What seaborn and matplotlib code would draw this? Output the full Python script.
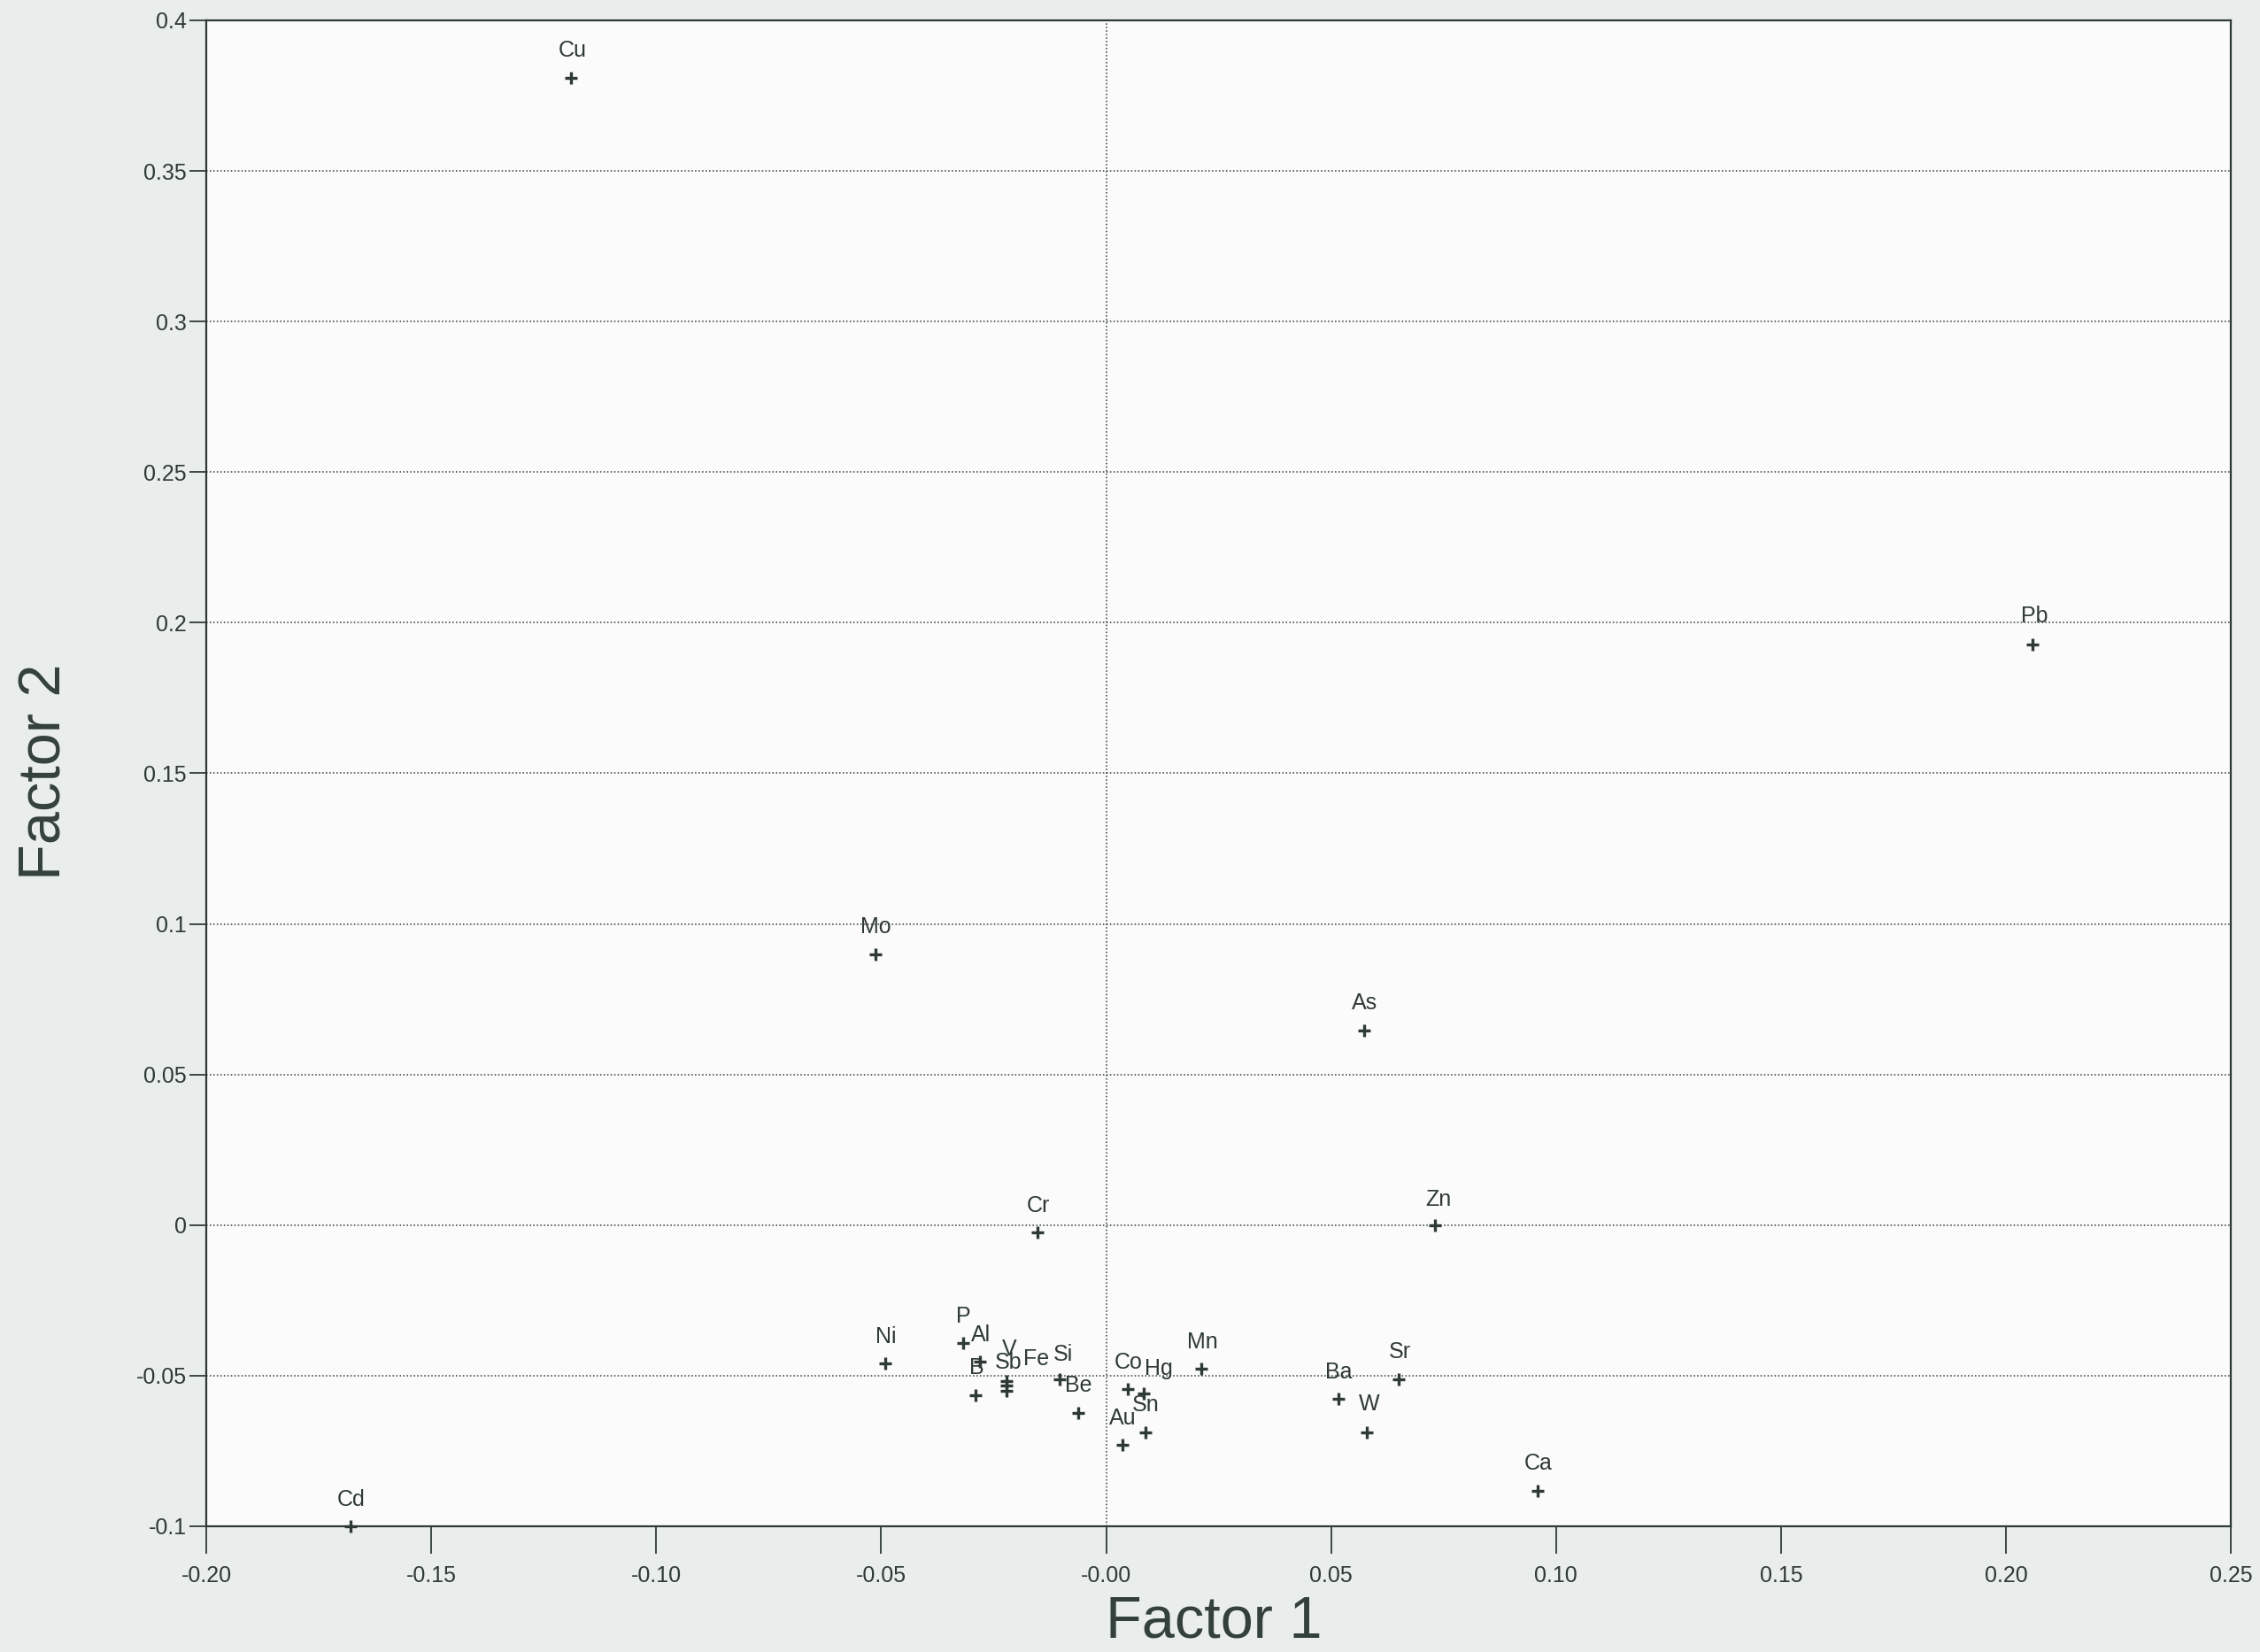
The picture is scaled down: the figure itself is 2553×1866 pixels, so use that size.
import numpy as np
import pandas as pd
import seaborn as sns
import matplotlib.pyplot as plt

# factor loadings
elements = ['Cu', 'Pb', 'Mo', 'As', 'Cr', 'Zn', 'Ni', 'P', 'Al', 'B',
            'V', 'Sb', 'Fe', 'Si', 'Be', 'Co', 'Hg', 'Sn', 'Au', 'Mn',
            'Ba', 'Sr', 'W', 'Ca', 'Cd']
factor1 = [-0.119, 0.206, -0.0513, 0.0574, -0.0152, 0.0730, -0.0491, -0.0318, -0.0280, -0.0290,
           -0.0221, -0.0221, -0.0221, -0.0103, -0.0062, 0.0048, 0.0084, 0.0087, 0.0036, 0.0212,
           0.0516, 0.0651, 0.0579, 0.0959, -0.168]
factor2 = [0.3808, 0.1928, 0.0900, 0.0647, -0.0024, 0.0, -0.0459, -0.0391, -0.0453, -0.0564,
           -0.0518, -0.0533, -0.0550, -0.0513, -0.0623, -0.0545, -0.0560, -0.0687, -0.0729, -0.0477,
           -0.0577, -0.0511, -0.0687, -0.0881, -0.1000]

x_ticks = [-0.20, -0.15, -0.10, -0.05, 0.00, 0.05, 0.10, 0.15, 0.20, 0.25]
x_tick_labels = ['-0.20', '-0.15', '-0.10', '-0.05', '-0.00', '0.05', '0.10', '0.15', '0.20', '0.25']
y_ticks = [-0.1, -0.05, 0.0, 0.05, 0.1, 0.15, 0.2, 0.25, 0.3, 0.35, 0.4]
y_tick_labels = ['-0.1', '-0.05', '0', '0.05', '0.1', '0.15', '0.2', '0.25', '0.3', '0.35', '0.4']

df = pd.DataFrame({'element': elements, 'Factor 1': factor1, 'Factor 2': factor2})

# label offsets (points) that differ from the default "centred above"
label_offsets = {'V': (2.4, 25.6), 'Sb': (1.2, 18.7), 'Fe': (23.8, 25.9),
                 'Hg': (12.2, 20.2), 'Si': (2.9, 20.2), 'Zn': (2.9, 20.6),
                 'W': (1.9, 22.8), 'Pb': (1.0, 23.0), 'Cu': (1.5, 22.8)}

sns.set_style('ticks')
plt.rcParams['font.family'] = ['Liberation Sans', 'DejaVu Sans']

ink = '#2f3a37'
fig = plt.figure(figsize=(25.53, 18.66), dpi=100, facecolor='#e9edeb')
ax = fig.add_axes([0.0913, 0.0761, 0.8958, 0.9116])
ax.set_facecolor('#fafbfa')

# dotted reference lines
for y in y_ticks[1:-1]:
    ax.axhline(y, color=ink, lw=1.1, ls=(0, (1, 1.6)), zorder=1)
ax.axvline(0, color=ink, lw=1.1, ls=(0, (1, 1.6)), zorder=1)

sns.scatterplot(data=df, x='Factor 1', y='Factor 2', marker='+', s=110,
                color=ink, linewidth=2.4, ax=ax, zorder=3, legend=False)
for coll in ax.collections:
    coll.set_clip_on(False)

for name, x, y in zip(df['element'], df['Factor 1'], df['Factor 2']):
    dx, dy = label_offsets.get(name, (0.5, 21.8))
    ax.annotate(name, (x, y), xytext=(dx, dy), textcoords='offset points',
                ha='center', va='center', fontsize=18, color=ink, zorder=4)

ax.set_xlim(-0.20, 0.25)
ax.set_ylim(-0.1, 0.4)
ax.set_xticks(x_ticks)
ax.set_xticklabels(x_tick_labels)
ax.set_yticks(y_ticks)
ax.set_yticklabels(y_tick_labels)
ax.tick_params(axis='x', length=22, width=1.3, pad=10, labelsize=18, colors=ink)
ax.tick_params(axis='y', length=14, width=1.3, pad=2, labelsize=18, colors=ink)
for side in ['left', 'right', 'top', 'bottom']:
    ax.spines[side].set_visible(True)
    ax.spines[side].set_color(ink)
    ax.spines[side].set_linewidth(1.6)

ax.set_xlabel('')
ax.set_ylabel('')
fig.text(0.537, 0.018, 'Factor 1', ha='center', va='center', fontsize=48, color='#34403d')
fig.text(0.020, 0.533, 'Factor 2', ha='center', va='center', rotation=90,
         fontsize=48, color='#34403d')

fig.savefig('out.png', dpi=100, facecolor=fig.get_facecolor())
